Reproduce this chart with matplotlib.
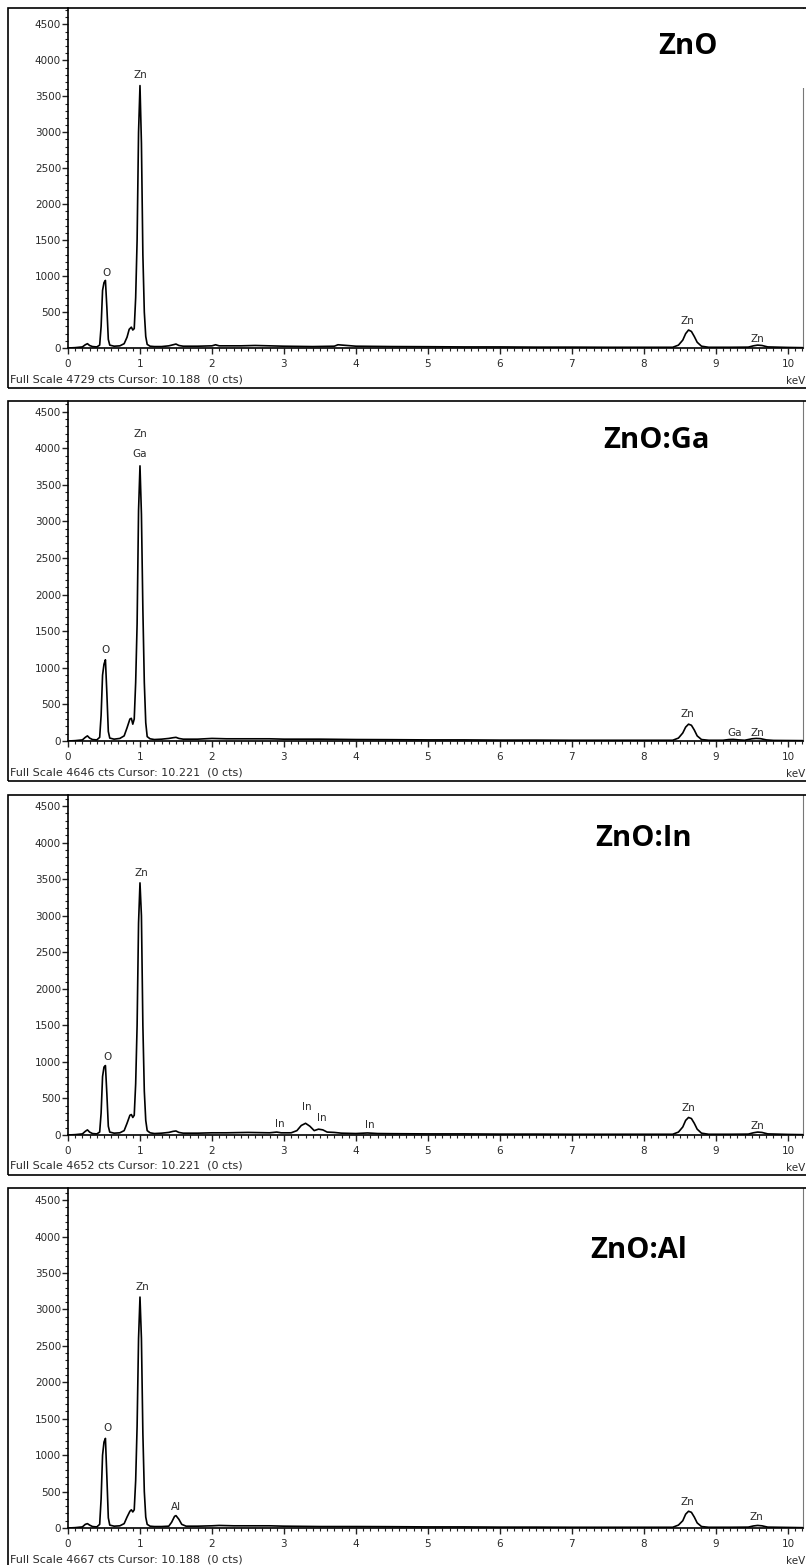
import numpy as np
import matplotlib
matplotlib.use('Agg')
import matplotlib.pyplot as plt
from matplotlib.patches import Rectangle
from matplotlib.ticker import MultipleLocator

# EDS spectra, energy (keV) vs counts
names = ['ZnO', 'ZnO:Ga', 'ZnO:In', 'ZnO:Al']
full_scale = [4729, 4646, 4652, 4667]
cursor = ['10.188', '10.221', '10.221', '10.188']

e_zno = [0.00, 0.10, 0.20, 0.24, 0.27, 0.30, 0.34, 0.40, 0.44, 0.46, 0.48, 0.50, 0.52, 0.54, 0.56,
         0.58, 0.64, 0.72, 0.78, 0.82, 0.85, 0.88, 0.90, 0.92, 0.94, 0.96, 0.98, 1.00, 1.02, 1.04,
         1.06, 1.08, 1.10, 1.14, 1.20, 1.30, 1.40, 1.46, 1.50, 1.54, 1.60, 1.80, 2.00, 2.05, 2.10,
         2.40, 2.60, 2.80, 3.00, 3.40, 3.70, 3.75, 4.00, 4.50, 5.00, 5.50, 6.00, 6.50, 7.00, 7.50,
         8.00, 8.40, 8.48, 8.54, 8.58, 8.62, 8.66, 8.70, 8.74, 8.80, 8.90, 9.20, 9.45, 9.52, 9.58,
         9.64, 9.72, 10.00, 10.20]
c_zno = [0, 5, 15, 45, 60, 35, 20, 15, 40, 300, 800, 910, 940, 560, 120,
         40, 25, 30, 60, 150, 260, 290, 250, 270, 700, 1500, 3000, 3650, 2850, 1300,
         500, 160, 50, 25, 20, 20, 30, 45, 55, 35, 25, 25, 30, 45, 30,
         30, 35, 30, 25, 20, 25, 45, 25, 20, 18, 15, 15, 12, 12, 10,
         10, 10, 40, 110, 200, 250, 230, 160, 80, 25, 10, 10, 12, 30, 40,
         35, 15, 8, 5]

e_ga = [0.00, 0.10, 0.20, 0.24, 0.27, 0.30, 0.34, 0.40, 0.44, 0.46, 0.48, 0.50, 0.52, 0.54, 0.56,
        0.58, 0.64, 0.72, 0.78, 0.82, 0.86, 0.88, 0.90, 0.92, 0.94, 0.96, 0.98, 1.00, 1.02, 1.04,
        1.06, 1.08, 1.10, 1.14, 1.20, 1.30, 1.40, 1.46, 1.50, 1.54, 1.60, 1.80, 2.00, 2.20, 2.40,
        2.80, 3.00, 3.50, 4.00, 4.50, 5.00, 5.50, 6.00, 6.50, 7.00, 7.50, 8.00, 8.40, 8.48, 8.54,
        8.58, 8.62, 8.66, 8.70, 8.74, 8.80, 8.90, 9.10, 9.18, 9.24, 9.32, 9.40, 9.50, 9.56, 9.62,
        9.70, 9.80, 10.20]
c_ga = [0, 5, 15, 50, 70, 40, 20, 15, 50, 350, 900, 1050, 1110, 650, 130,
        40, 25, 35, 70, 180, 300, 310, 230, 300, 800, 1600, 3150, 3760, 3100, 1800,
        800, 250, 60, 30, 20, 25, 35, 45, 50, 35, 25, 25, 35, 30, 30,
        30, 25, 25, 20, 18, 15, 15, 12, 12, 10, 10, 10, 10, 40, 110,
        190, 230, 215, 150, 70, 20, 10, 10, 20, 22, 15, 10, 30, 35, 32,
        15, 8, 5]

e_in = [0.00, 0.10, 0.20, 0.24, 0.27, 0.30, 0.34, 0.40, 0.44, 0.46, 0.48, 0.50, 0.52, 0.54, 0.56,
        0.58, 0.64, 0.72, 0.78, 0.82, 0.86, 0.88, 0.90, 0.92, 0.94, 0.96, 0.98, 1.00, 1.02, 1.04,
        1.06, 1.08, 1.10, 1.14, 1.20, 1.30, 1.40, 1.46, 1.50, 1.54, 1.60, 1.80, 2.00, 2.20, 2.50,
        2.80, 2.90, 2.96, 3.10, 3.18, 3.24, 3.30, 3.36, 3.42, 3.48, 3.54, 3.60, 3.70, 3.80, 4.00,
        4.16, 4.30, 4.50, 5.00, 5.50, 6.00, 6.50, 7.00, 7.50, 8.00, 8.40, 8.48, 8.54, 8.58, 8.62,
        8.66, 8.70, 8.74, 8.80, 8.90, 9.20, 9.45, 9.52, 9.58, 9.64, 9.72, 10.00, 10.20]
c_in = [0, 5, 15, 50, 70, 40, 20, 15, 40, 300, 800, 930, 950, 560, 120,
        40, 25, 30, 60, 160, 270, 280, 240, 270, 700, 1500, 2900, 3450, 3000, 1500,
        600, 200, 60, 30, 20, 25, 35, 50, 55, 35, 25, 25, 30, 30, 35,
        30, 40, 30, 30, 60, 130, 160, 120, 60, 80, 70, 40, 35, 25, 20,
        28, 20, 18, 15, 15, 12, 12, 10, 10, 10, 10, 40, 110, 200, 240,
        225, 160, 80, 25, 10, 10, 12, 30, 40, 35, 15, 8, 5]

e_al = [0.00, 0.10, 0.20, 0.24, 0.27, 0.30, 0.34, 0.40, 0.44, 0.46, 0.48, 0.50, 0.52, 0.54, 0.56,
        0.58, 0.64, 0.72, 0.78, 0.82, 0.86, 0.88, 0.90, 0.92, 0.94, 0.96, 0.98, 1.00, 1.02, 1.04,
        1.06, 1.08, 1.10, 1.14, 1.20, 1.30, 1.40, 1.44, 1.48, 1.50, 1.54, 1.58, 1.64, 1.80, 2.00,
        2.10, 2.30, 2.60, 2.80, 3.00, 3.50, 4.00, 4.50, 5.00, 5.50, 6.00, 6.50, 7.00, 7.50, 8.00,
        8.40, 8.48, 8.54, 8.58, 8.62, 8.66, 8.70, 8.74, 8.80, 8.90, 9.20, 9.45, 9.52, 9.58, 9.64,
        9.72, 10.00, 10.20]
c_al = [0, 5, 15, 50, 60, 40, 20, 15, 50, 400, 1000, 1180, 1230, 700, 140,
        40, 25, 30, 60, 150, 230, 250, 220, 250, 650, 1400, 2600, 3170, 2600, 1300,
        500, 150, 50, 25, 20, 20, 25, 80, 160, 170, 120, 50, 25, 25, 30,
        35, 30, 30, 30, 25, 20, 20, 18, 15, 15, 12, 12, 10, 10, 10,
        10, 40, 100, 190, 230, 215, 150, 70, 20, 10, 10, 12, 28, 35, 30,
        12, 8, 5]

energies = [e_zno, e_ga, e_in, e_al]
counts = [c_zno, c_ga, c_in, c_al]

# peak labels: (text, keV, counts)
labels = [
    [('O', 0.53, 1050), ('Zn', 1.00, 3800), ('Zn', 8.61, 370), ('Zn', 9.58, 120)],
    [('O', 0.52, 1250), ('Ga', 1.00, 3920), ('Zn', 1.00, 4190), ('Zn', 8.61, 370),
     ('Ga', 9.26, 115), ('Zn', 9.58, 115)],
    [('O', 0.55, 1070), ('Zn', 1.02, 3580), ('In', 2.94, 150), ('In', 3.32, 385),
     ('In', 3.52, 235), ('In', 4.19, 140), ('Zn', 8.62, 370), ('Zn', 9.58, 125)],
    [('O', 0.55, 1370), ('Zn', 1.04, 3310), ('Al', 1.50, 290), ('Zn', 8.61, 360),
     ('Zn', 9.56, 150)],
]

# layout in pixels
W, H = 806, 1565
tops = [8, 401, 795, 1188]
plot_h = 340
frame_h = 380
x0_px, x1_px = 68, 803
name_pos = [(688, 47), (656, 441), (644, 838), (639, 1250)]

small = 'DejaVu Sans'

fig = plt.figure(figsize=(W / 100, H / 100), dpi=100)

for i in range(4):
    T = tops[i]
    ax = fig.add_axes([x0_px / W, 1 - (T + plot_h) / H, (x1_px - x0_px) / W, plot_h / H])
    ax.plot(energies[i], counts[i], color='black', lw=1.2)
    ax.set_xlim(0, 10.21)
    ax.set_ylim(0, full_scale[i])

    ax.spines['top'].set_visible(False)
    ax.spines['right'].set_color('#777777')
    ax.spines['left'].set_linewidth(1.2)
    ax.spines['bottom'].set_linewidth(1.2)

    ax.xaxis.set_major_locator(MultipleLocator(1))
    ax.xaxis.set_minor_locator(MultipleLocator(0.1))
    ax.yaxis.set_major_locator(MultipleLocator(500))
    ax.yaxis.set_minor_locator(MultipleLocator(100))
    ax.tick_params(which='major', direction='out', length=4, width=1, colors='#222222',
                   labelsize=7.5, labelcolor='#2a2a2a')
    ax.tick_params(which='minor', direction='out', length=2.2, width=0.8, colors='#222222')
    ax.tick_params(axis='x', which='major', pad=4)
    ax.tick_params(axis='y', which='major', pad=1)
    for t in ax.get_xticklabels() + ax.get_yticklabels():
        t.set_fontfamily(small)

    for txt, ex, ey in labels[i]:
        ax.text(ex, ey, txt, ha='center', va='center', fontsize=7.5, color='#2a2a2a',
                family=small)

    # outer frame of the panel
    fig.add_artist(Rectangle((8 / W, 1 - (T + frame_h) / H), 1.0, frame_h / H,
                             transform=fig.transFigure, fill=False, ec='black', lw=1.2))

    if i == 0:
        fig.add_artist(Rectangle((620 / W, 1 - 88 / H), 190 / W, 79 / H,
                                 transform=fig.transFigure, fc='white', ec='none', zorder=5))

    fig.text(10 / W, 1 - (T + 371) / H,
             'Full Scale %d cts Cursor: %s  (0 cts)' % (full_scale[i], cursor[i]),
             ha='left', va='center', fontsize=8, color='#2a2a2a', family=small)
    fig.text(796 / W, 1 - (T + 373) / H, 'keV', ha='center', va='center',
             fontsize=7.5, color='#2a2a2a', family=small)

    nx, ny = name_pos[i]
    fig.text(nx / W, 1 - ny / H, names[i], ha='center', va='center', fontsize=21,
             fontweight='bold', family=['Open Sans', 'DejaVu Sans'], color='black', zorder=6)

fig.savefig('out.png', dpi=100)
